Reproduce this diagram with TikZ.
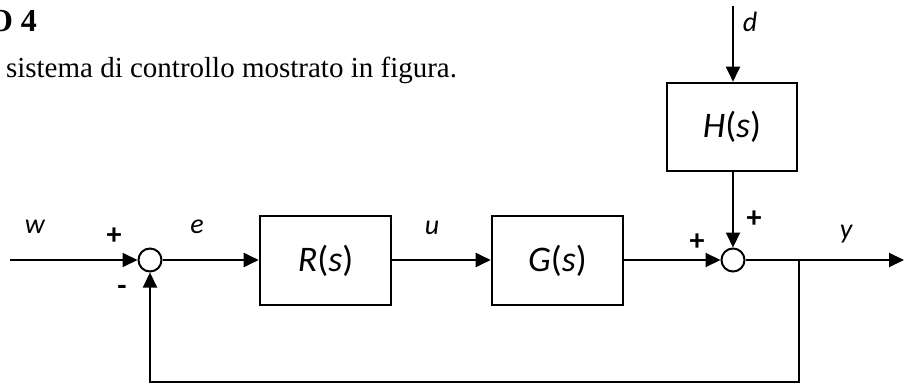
\documentclass[tikz,border=0pt]{standalone}
\usepackage{fontspec}
\setmainfont{Liberation Serif}
\newfontfamily\lblfont{Carlito}
\usetikzlibrary{arrows.meta}
\begin{document}
\begin{tikzpicture}[x=1pt,y=-1pt,line width=2pt,
  blockbox/.style={draw,line width=2.6pt,minimum width=131pt,minimum height=89pt,inner sep=0pt,
    font=\lblfont\fontsize{36}{40}\selectfont},
  sumnode/.style={circle,draw,line width=2pt,minimum size=23pt,inner sep=0pt},
  sig/.style={-{Triangle[length=15pt,width=14pt]}},
  lbl/.style={inner sep=0pt,font=\lblfont\itshape\fontsize{28}{30}\selectfont},
  sgn/.style={inner sep=0pt,font=\lblfont\bfseries\fontsize{30}{32}\selectfont}]
\useasboundingbox (0,0) rectangle (904,385);
% header text
\node[anchor=base west,inner sep=0pt,font=\bfseries\fontsize{32}{36}\selectfont] (hd) at (-13,32) {O 4};
\node[anchor=base west,inner sep=0pt,font=\fontsize{29}{33}\selectfont] (tx) at (5,78) {sistema di controllo mostrato in figura.};
% blocks
\node[sumnode] (s1) at (150,260) {};
\node[blockbox] (R) at (325.5,260.5) {\textit{R}(\textit{s})};
\node[blockbox] (G) at (557.5,260.5) {\textit{G}(\textit{s})};
\node[sumnode] (s2) at (733,260) {};
\node[blockbox,minimum width=130pt,minimum height=88pt] (H) at (732,127) {\textit{H}(\textit{s})};
% coordinates
\coordinate (in) at (10,260);
\coordinate (dtop) at (733,6);
\coordinate (br) at (799,260);
\coordinate (out) at (904,260);
\coordinate (fbR) at (799,382);
\coordinate (fbL) at (150,382);
% connectors
\draw[sig] (in) -- (s1.west);
\draw[sig] (s1.east) -- (s1.east -| R.west);
\draw[sig] (R.east |- s1.east) -- (R.east |- s1.east -| G.west);
\draw[sig] (G.east |- s2.west) -- (s2.west);
\draw[sig] (dtop) -- (dtop |- H.north);
\draw[sig] (H.south -| s2.north) -- (s2.north);
\draw[sig] (s2.east) -- (out);
\draw[sig] (br) -- (fbR) -- (fbL) -- (s1.south);
% labels
\node[lbl] (lw) at (35,227) {w};
\node[lbl] (le) at (197,227) {e};
\node[lbl] (lu) at (432,228) {u};
\node[lbl] (ly) at (846,234) {y};
\node[lbl] (ld) at (750,22) {d};
\node[sgn] (p1) at (114,236.5) {+};
\node[sgn] (m1) at (122,290) {-};
\node[sgn] (p2) at (697,242) {+};
\node[sgn] (p3) at (754,219.5) {+};
\end{tikzpicture}
\end{document}
